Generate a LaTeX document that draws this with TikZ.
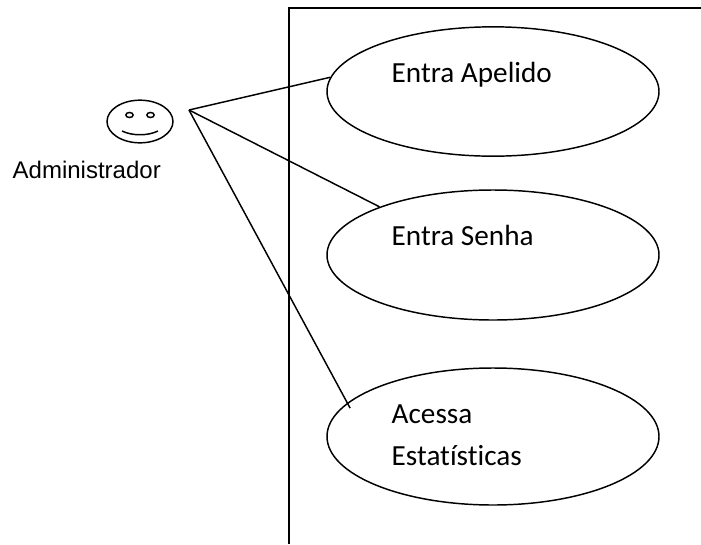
\documentclass[tikz,border=0pt]{standalone}
\usepackage{fontspec}
\usepackage{tikz}
\usetikzlibrary{shapes.geometric}
\setmainfont[Ligatures=NoCommon]{Carlito}
\newfontfamily\actorfont{Liberation Sans}

\begin{document}
\begin{tikzpicture}[x=0.75pt, y=-0.75pt, line width=1.1pt,
    usecase/.style={ellipse, draw, inner sep=0pt, minimum width=249pt},
    usecasetext/.style={anchor=base west, inner sep=0pt, font=\fontsize{21.9}{26}\selectfont}]
            \useasboundingbox (0,0) rectangle (701,544);

            % system frame
            \coordinate (frameNE) at (701,8);
            \coordinate (frameNW) at (289,8);
            \coordinate (frameSW) at (289,544);
            \draw[line width=1.4pt] (frameNE) -- (frameNW) -- (frameSW);

            % actor
            \node (face) [ellipse, draw, inner sep=0pt, minimum width=49.5pt, minimum height=32pt] at (140,121.5) {};
            \node (eyeL) [ellipse, draw, inner sep=0pt, minimum width=5.5pt, minimum height=3.8pt] at (129.5,115) {};
            \node (eyeR) [ellipse, draw, inner sep=0pt, minimum width=5.5pt, minimum height=3.8pt] at (150.5,115) {};
            \coordinate (smileL) at (122,131);
            \coordinate (smileR) at (158,131);
            \draw (smileL) .. controls (132,136) and (148,136) .. (smileR);
            \node (actor) [anchor=base west, inner sep=0pt, font=\actorfont\fontsize{18}{21}\selectfont] at (12,178) {Administrador};
            \coordinate (hub) at (189,110);

            % use cases
            \node (apelido) [usecase, minimum height=97pt] at (493,91.5) {};
            \node (senha) [usecase, minimum height=97.5pt] at (493,255) {};
            \node (acessa) [usecase, minimum height=102.75pt] at (493,436.5) {};

            \node (apelidoText) [usecasetext] at (391,82) {Entra Apelido};
            \node (senhaText) [usecasetext] at (391,245) {Entra Senha};
            \node (acessaText) [usecasetext] at (391,423.5) {Acessa};
            \node (estatText) [usecasetext] at (391,465) {Estatísticas};

            \draw (hub) -- (apelido.175);
            \draw (hub) -- (senha.157);
            \draw[shorten >=-4.5pt] (hub) -- (acessa.167.4);
        \end{tikzpicture}
\end{document}
